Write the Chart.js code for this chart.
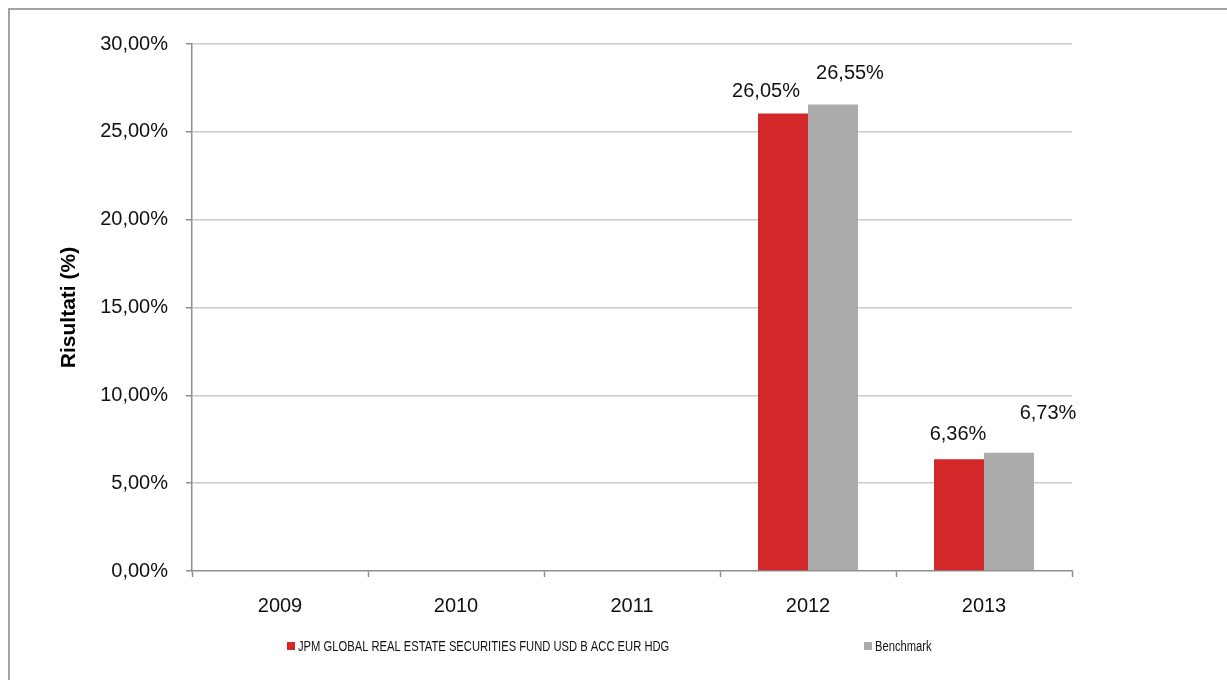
<!DOCTYPE html>
<html>
<head>
<meta charset="utf-8">
<script src="https://cdn.jsdelivr.net/npm/chart.js@4/dist/chart.umd.min.js"></script>
<style>
  html, body { margin: 0; padding: 0; background: #fff; }
  #frame { position: absolute; left: 8px; top: 8px; width: 1300px; height: 760px;
           border-left: 2px solid #a3a3a3; border-top: 2px solid #a3a3a3; }
  #c { position: absolute; left: 0; top: 0; }
</style>
</head>
<body>
<div id="frame"></div>
<canvas id="c" width="1227" height="680"></canvas>
<script>
const categories = ['2009', '2010', '2011', '2012', '2013'];
const fundLabel = 'JPM GLOBAL REAL ESTATE SECURITIES FUND USD B ACC EUR HDG';
const benchLabel = 'Benchmark';
const fundValues = [null, null, null, 26.05, 6.36];
const benchValues = [null, null, null, 26.55, 6.73];
const yTicks = [0, 5, 10, 15, 20, 25, 30];

const FONT = "'Liberation Sans', Arial, sans-serif";
const fmt = v => v.toFixed(2).replace('.', ',') + '%';

// label nudges per dataset / point (pixels) to mimic the original placement
const labelNudges = [
  [[0,0],[0,0],[0,0],[-17,-22],[-1,-25]],
  [[0,0],[0,0],[0,0],[17,-31],[39,-39]]
];

const valueLabels = {
  id: 'valueLabels',
  afterDatasetsDraw(chart) {
    const ctx = chart.ctx;
    ctx.save();
    ctx.font = '20px ' + FONT;
    ctx.fillStyle = '#111';
    ctx.textAlign = 'center';
    ctx.textBaseline = 'middle';
    chart.data.datasets.forEach((ds, di) => {
      const meta = chart.getDatasetMeta(di);
      meta.data.forEach((el, i) => {
        const v = ds.data[i];
        if (v === null || v === undefined) return;
        const n = labelNudges[di][i];
        ctx.fillText(fmt(v), el.x + n[0], el.y + n[1]);
      });
    });
    ctx.restore();
  }
};

const customLegend = {
  id: 'customLegend',
  afterDraw(chart) {
    const ctx = chart.ctx;
    const items = [[287, 0], [864, 1]];
    const sx = 0.747;
    ctx.save();
    ctx.font = '15px ' + FONT;
    ctx.textBaseline = 'middle';
    ctx.textAlign = 'left';
    items.forEach(([x, di]) => {
      const ds = chart.data.datasets[di];
      ctx.fillStyle = ds.backgroundColor;
      ctx.fillRect(x, 642, 8, 8);
      ctx.fillStyle = '#111';
      ctx.save();
      ctx.translate(x + 11, 646.5);
      ctx.scale(sx, 1);
      ctx.fillText(ds.label, 0, 0);
      ctx.restore();
    });
    ctx.restore();
  }
};

new Chart(document.getElementById('c'), {
  type: 'bar',
  data: {
    labels: categories,
    datasets: [
      { label: fundLabel, data: fundValues, backgroundColor: '#d3282a',
        categoryPercentage: 0.568, barPercentage: 1 },
      { label: benchLabel, data: benchValues, backgroundColor: '#aaabaa',
        categoryPercentage: 0.568, barPercentage: 1 }
    ]
  },
  options: {
    responsive: false,
    animation: false,
    layout: { padding: { top: 44, right: 155, left: 0, bottom: 0 } },
    plugins: { legend: { display: false }, tooltip: { enabled: false } },
    scales: {
      x: {
        afterFit(s) { s.height = 109; },
        grid: { offset: true, drawOnChartArea: false, drawTicks: true, tickLength: 6,
                tickColor: '#8e8e8e', tickWidth: 1.5 },
        border: { display: true, color: '#8e8e8e', width: 1.5 },
        ticks: { font: { family: FONT, size: 20 }, color: '#111', padding: 17 }
      },
      y: {
        min: 0, max: 30,
        afterFit(s) { s.width = 192; },
        afterBuildTicks(s) { s.ticks = yTicks.map(v => ({ value: v })); },
        grid: { color: c => (c.tick && c.tick.value === 0) ? 'rgba(0,0,0,0)' : '#cbcbcb',
                lineWidth: 1.5, drawTicks: true, tickLength: 6, tickColor: '#8e8e8e', tickWidth: 1.5 },
        border: { display: true, color: '#8e8e8e', width: 1.5 },
        ticks: { font: { family: FONT, size: 20 }, color: '#111', padding: 18,
                 callback: v => fmt(v) },
        title: { display: true, text: 'Risultati (%)', color: '#000',
                 font: { family: FONT, size: 21, weight: 'bold' },
                 padding: { top: 57, bottom: 0 } }
      }
    }
  },
  plugins: [valueLabels, customLegend]
});
</script>
</body>
</html>
